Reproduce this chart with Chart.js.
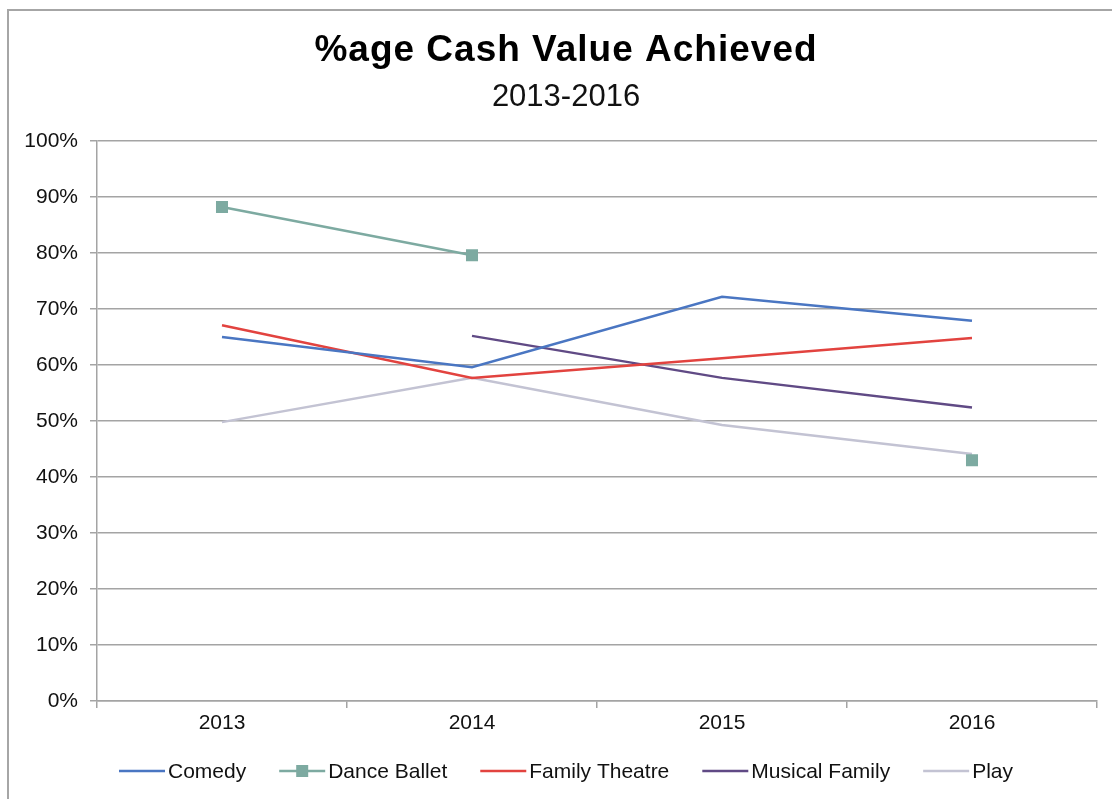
<!DOCTYPE html>
<html>
<head>
<meta charset="utf-8">
<script src="https://cdn.jsdelivr.net/npm/chart.js@4/dist/chart.umd.min.js"></script>
<style>
  html, body { margin: 0; padding: 0; background: #fff; }
  #c { display: block; }
</style>
</head>
<body>
<canvas id="c" width="1112" height="799"></canvas>
<script>
// ---- Data ----
const categories = ['2013', '2014', '2015', '2016'];
const comedy        = [65.0, 59.6, 72.2, 67.9];
const danceBallet   = [88.2, 79.6, null, 43.0];
const familyTheatre = [67.1, 57.7, 61.2, 64.8];
const musicalFamily = [null, 65.2, 57.7, 52.4];
const play          = [49.8, 57.7, 49.3, 44.1];
const seriesNames   = ['Comedy', 'Dance Ballet', 'Family Theatre', 'Musical Family', 'Play'];
const yTickValues   = [0, 10, 20, 30, 40, 50, 60, 70, 80, 90, 100];
const titleText     = '%age Cash Value Achieved';
const subtitleText  = '2013-2016';

// ---- Styles ----
const colors = ['#4A76C2', '#7DAAA1', '#E2433F', '#604A85', '#C3C3D3'];
const FONT = '"Liberation Sans", Arial, sans-serif';
const GRID = '#A4A4A4';
const CENTER_X = 566;

const seriesData = [comedy, danceBallet, familyTheatre, musicalFamily, play];
const datasets = seriesData.map((d, i) => ({
  label: seriesNames[i],
  data: d,
  borderColor: colors[i],
  backgroundColor: colors[i],
  borderWidth: 2.5,
  pointRadius: i === 1 ? 8.5 : 0,
  pointHoverRadius: i === 1 ? 8.5 : 0,
  pointStyle: 'rect',
  pointBorderWidth: 0,
  tension: 0,
  spanGaps: false
}));

const decor = {
  id: 'decor',
  beforeDraw(chart) {
    const ctx = chart.ctx;
    ctx.save();
    ctx.fillStyle = '#fff';
    ctx.fillRect(0, 0, chart.width, chart.height);
    ctx.restore();
  },
  afterDraw(chart) {
    const ctx = chart.ctx;
    ctx.save();
    // outer frame (left & top visible)
    ctx.strokeStyle = '#A6A6A6';
    ctx.lineWidth = 2;
    ctx.beginPath();
    ctx.moveTo(8, chart.height + 10);
    ctx.lineTo(8, 10);
    ctx.lineTo(chart.width + 10, 10);
    ctx.stroke();

    // title
    ctx.fillStyle = '#000';
    ctx.textAlign = 'center';
    ctx.textBaseline = 'alphabetic';
    ctx.font = 'bold 37px ' + FONT;
    if ('letterSpacing' in ctx) ctx.letterSpacing = '1px';
    ctx.fillText(titleText, CENTER_X, 61);
    if ('letterSpacing' in ctx) ctx.letterSpacing = '0px';
    ctx.font = '31px ' + FONT;
    ctx.fillStyle = '#111';
    ctx.fillText(subtitleText, CENTER_X, 106);

    // legend
    ctx.font = '21px ' + FONT;
    ctx.textAlign = 'left';
    ctx.textBaseline = 'middle';
    const lineLen = 46, textGap = 3, itemGap = 33;
    const widths = seriesNames.map(n => lineLen + textGap + ctx.measureText(n).width);
    const total = widths.reduce((a, b) => a + b, 0) + itemGap * (widths.length - 1);
    let x = CENTER_X - total / 2;
    const y = 771;
    seriesNames.forEach((n, i) => {
      ctx.strokeStyle = colors[i];
      ctx.lineWidth = 2.5;
      ctx.beginPath();
      ctx.moveTo(x, y);
      ctx.lineTo(x + lineLen, y);
      ctx.stroke();
      if (i === 1) {
        ctx.fillStyle = colors[i];
        ctx.fillRect(x + lineLen / 2 - 6, y - 6, 12, 12);
      }
      ctx.fillStyle = '#111';
      ctx.fillText(n, x + lineLen + textGap, y + 1);
      x += widths[i] + itemGap;
    });
    ctx.restore();
  }
};

new Chart(document.getElementById('c'), {
  type: 'line',
  data: { labels: categories, datasets },
  options: {
    responsive: false,
    animation: false,
    devicePixelRatio: 1,
    events: [],
    layout: { padding: { top: 141, right: 15, bottom: 58, left: 0 } },
    plugins: {
      legend: { display: false },
      title: { display: false },
      tooltip: { enabled: false }
    },
    scales: {
      x: {
        offset: true,
        grid: {
          offset: true,
          drawOnChartArea: false,
          drawTicks: true,
          tickLength: 7,
          color: GRID,
          lineWidth: 1.5
        },
        border: { color: GRID, width: 1.5 },
        ticks: {
          color: '#111',
          font: { family: FONT, size: 21 },
          padding: 3,
          maxRotation: 0
        },
        afterFit(scale) { scale.height = 40; }
      },
      y: {
        min: 0,
        max: 100,
        afterBuildTicks(scale) { scale.ticks = yTickValues.map(v => ({ value: v })); },
        grid: {
          color: GRID,
          lineWidth: 1.5,
          tickLength: 7,
          drawTicks: true
        },
        border: { color: GRID, width: 1.5 },
        ticks: {
          color: '#111',
          font: { family: FONT, size: 21 },
          padding: 12,
          callback: v => v + '%'
        },
        afterFit(scale) { scale.width = 97; }
      }
    }
  },
  plugins: [decor]
});
</script>
</body>
</html>
